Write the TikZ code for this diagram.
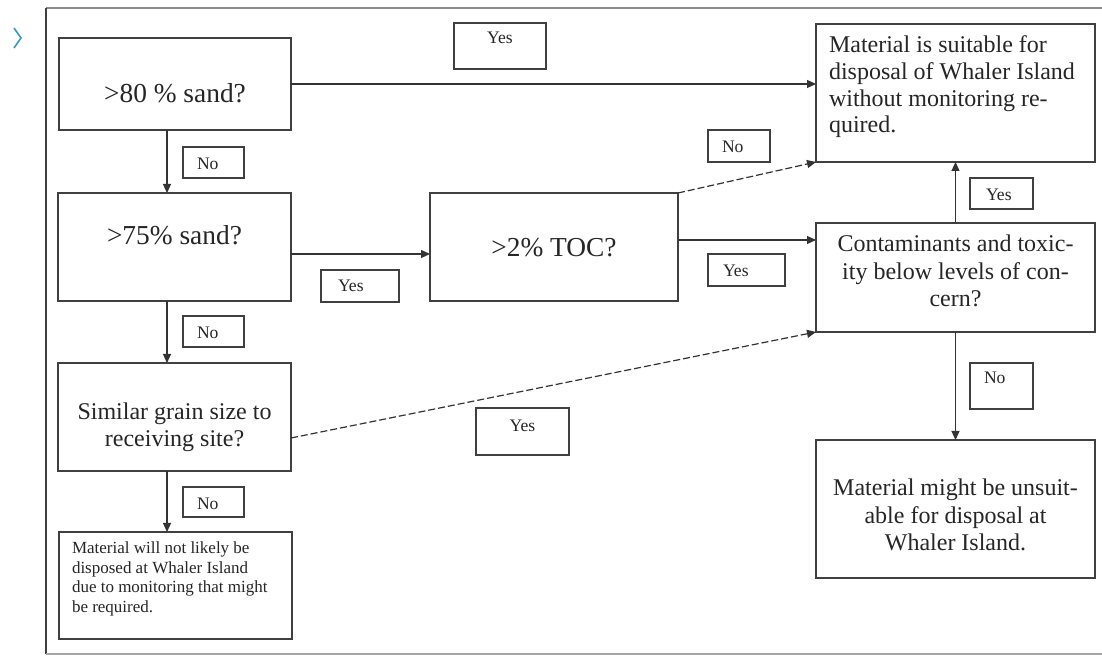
\documentclass[tikz,border=0pt]{standalone}
\usepackage{fontspec}
\setmainfont{Liberation Serif}
\usetikzlibrary{arrows.meta}
\newcommand\cbox[6]{\parbox[c][#2][t]{#1}{\centering\fontsize{#3}{#4}\selectfont\rule{0pt}{#5}#6\par}}
\newcommand\lbox[7]{\parbox[c][#2][t]{#1}{\raggedright\leftskip=#6\relax\fontsize{#3}{#4}\selectfont\rule{0pt}{#5}#7\par}}
\tikzset{
  box/.style={draw=black!75, line width=0.8pt, inner sep=0pt, outer sep=0pt, text=black!85},
  lbl/.style={draw=black!75, line width=0.7pt, inner sep=0pt, outer sep=0pt, text=black!85},
  arr/.style={line width=0.6pt, draw=black!80, -{Triangle[length=4.5pt,width=4pt]}},
  dsh/.style={dash pattern=on 3.5pt off 1.5pt}
}
\begin{document}
\begin{tikzpicture}[x=0.5pt,y=-0.5pt]
\useasboundingbox (0,0) rectangle (1102,656);
\fill[white] (0,0) rectangle (1102,656);
% frame
\draw[black!45, line width=1.1pt] (46,8) -- (1102,8);
\draw[black!75, line width=0.9pt] (46,8) -- (46,654);
\draw[black!35, line width=0.9pt] (46,654) -- (1102,654);
% chevron
\draw[color={rgb,255:red,60;green,150;blue,190}, line width=0.8pt] (14,28) -- (21,38) -- (14,48);
% main boxes
\node[box] (A) at (175,84) {\cbox{116pt}{46pt}{13.7}{16}{32.5pt}{>80 \% sand?}};
\node[box] (B) at (174.5,247) {\cbox{116.5pt}{54pt}{13.7}{16}{26pt}{>75\% sand?}};
\node[box] (C) at (174.5,417) {\cbox{116.5pt}{54pt}{12}{13.5}{28.5pt}{Similar grain size to\\receiving site?}};
\node[box] (D) at (175.5,585.5) {\lbox{116.5pt}{53.5pt}{8.5}{9.75}{11pt}{6.5pt}{Material will not likely be\\disposed at Whaler Island\\due to monitoring that might\\be required.}};
\node[box] (E) at (554,247) {\cbox{124pt}{54pt}{13.7}{16}{32pt}{>2\% TOC?}};
\node[box] (F) at (955.5,93) {\lbox{139.5pt}{69pt}{12}{13.3}{14.5pt}{6.5pt}{Material is suitable for\\disposal of Whaler Island\\without monitoring re-\\quired.}};
\node[box] (G) at (955.5,277.5) {\cbox{139.5pt}{54.5pt}{12}{13.75}{14.5pt}{Contaminants and toxic-\\ity below levels of con-\\cern?}};
\node[box] (H) at (955.5,509) {\cbox{139.5pt}{69pt}{12}{13.75}{28pt}{Material might be unsuit-\\able for disposal at\\Whaler Island.}};
% labels
\node[lbl] (L1) at (500,46) {\cbox{46pt}{23pt}{8.8}{10}{10.5pt}{Yes}};
\node[lbl] (L2) at (213.5,162.5) {\lbox{30.5pt}{15.5pt}{8.8}{10}{11.5pt}{7pt}{No}};
\node[lbl] (L3) at (360,286) {\lbox{39pt}{16pt}{8.8}{10}{11pt}{8.5pt}{Yes}};
\node[lbl] (L4) at (213.5,331.5) {\lbox{30.5pt}{15.5pt}{8.8}{10}{11.5pt}{7pt}{No}};
\node[lbl] (L5) at (213.5,502) {\lbox{30.5pt}{15pt}{8.8}{10}{11.5pt}{7pt}{No}};
\node[lbl] (L6) at (522.5,431.5) {\cbox{46.5pt}{23.5pt}{8.8}{10}{12pt}{Yes}};
\node[lbl] (L7) at (739,146) {\lbox{31pt}{16pt}{8.8}{10}{11.5pt}{7pt}{No}};
\node[lbl] (L8) at (746.5,270) {\lbox{38.5pt}{16pt}{8.8}{10}{11.5pt}{7.5pt}{Yes}};
\node[lbl] (L9) at (1001.5,193.5) {\lbox{31.5pt}{15.5pt}{8.8}{10}{11.5pt}{8pt}{Yes}};
\node[lbl] (L10) at (1001.5,386) {\lbox{31.5pt}{23pt}{8.8}{10}{10.5pt}{7pt}{No}};
% connector helpers
\coordinate (cx) at (167,0);
\coordinate (yBE) at (0,254);
\coordinate (yEG) at (0,240);
\coordinate (yCG) at (0,438);
% connectors
\draw[arr] (A.south -| cx) -- (B.north -| cx);
\draw[arr] (B.south -| cx) -- (C.north -| cx);
\draw[arr] (C.south -| cx) -- (D.north -| cx);
\draw[arr] (A.east) -- (A.east -| F.west);
\draw[arr] (B.east |- yBE) -- (E.west |- yBE);
\draw[arr] (E.east |- yEG) -- (G.west |- yEG);
\draw[arr,dsh] (E.north east) -- (F.south west);
\draw[arr,dsh] (C.east |- yCG) -- (G.south west);
\draw[arr] (G.north) -- (F.south);
\draw[arr] (G.south) -- (H.north);
\end{tikzpicture}
\end{document}
